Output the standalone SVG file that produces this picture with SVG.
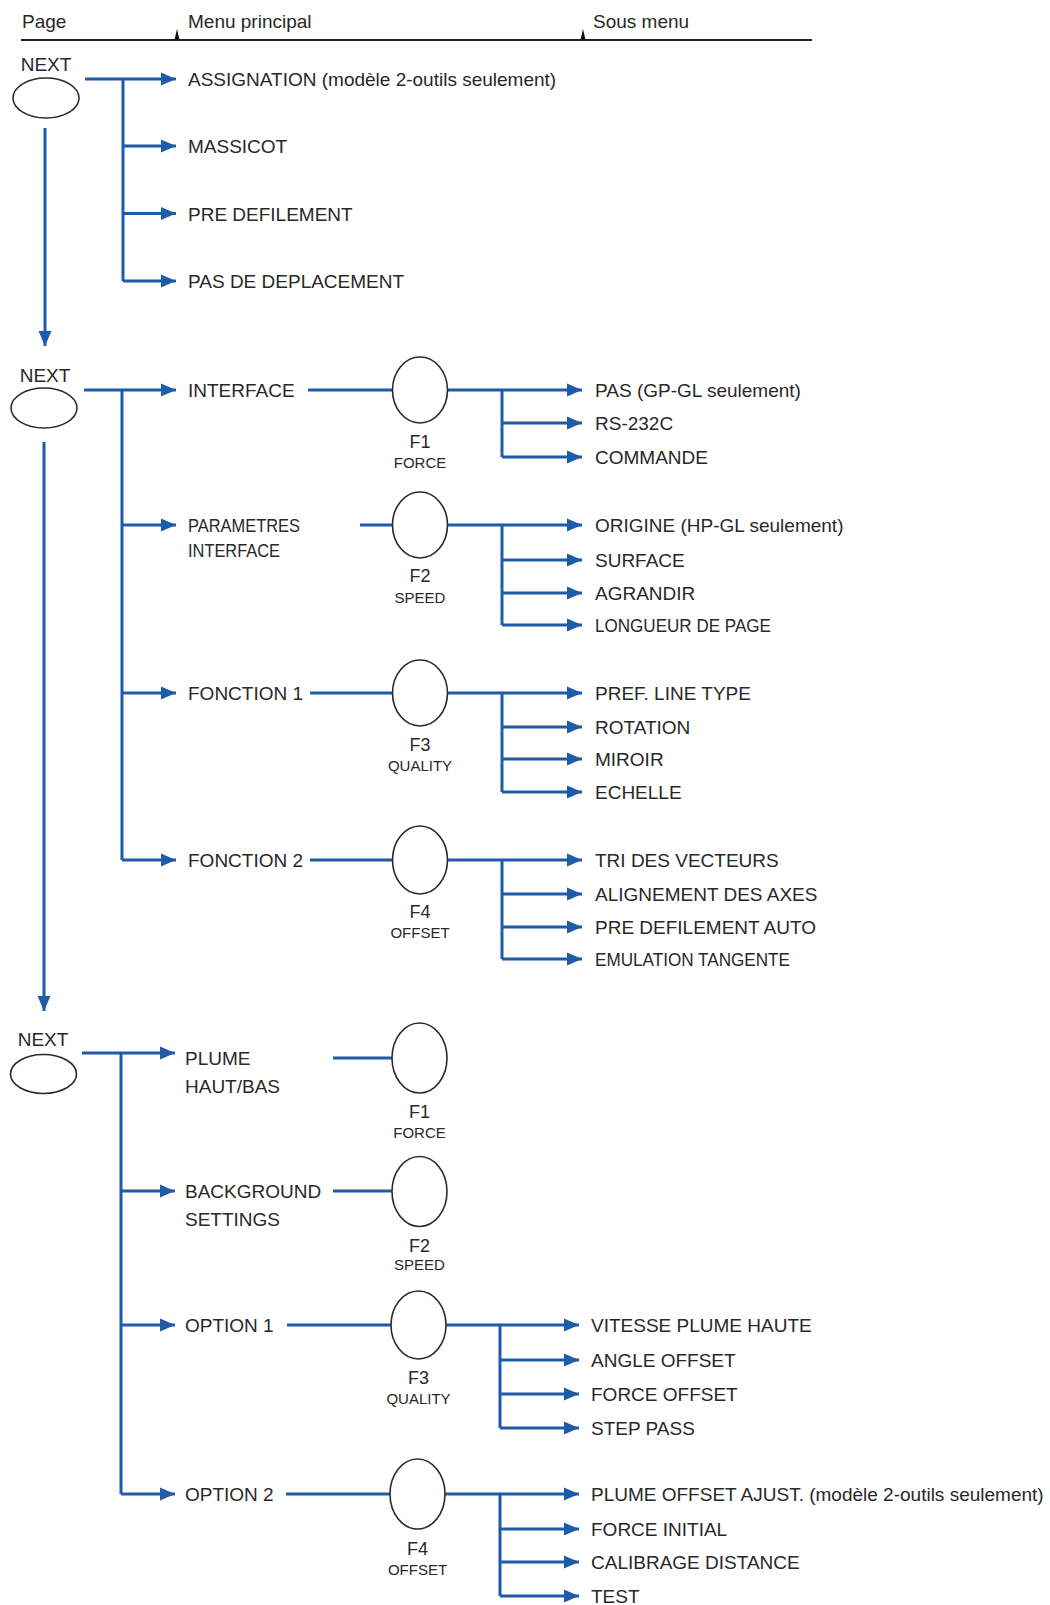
<svg xmlns="http://www.w3.org/2000/svg" width="1050" height="1605" viewBox="0 0 1050 1605">
<style>
  text { font-family: "Liberation Sans", Arial, sans-serif; fill: #282828; }
  .t { font-size: 19px; }
  .f { font-size: 18px; text-anchor: middle; }
  .s { font-size: 15px; text-anchor: middle; }
  .n { font-size: 19px; text-anchor: middle; }
  .c { stroke: #1e5ba8; stroke-width: 3; fill: none; }
  .a { stroke: #1e5ba8; stroke-width: 3; fill: none; marker-end: url(#ah); }
  .k { fill: #ffffff; stroke: #2a2a2a; stroke-width: 1.6; }
</style>
<defs>
  <marker id="ah" markerUnits="userSpaceOnUse" markerWidth="16" markerHeight="14" refX="15" refY="7" orient="auto">
    <path d="M0,0.5 L15,7 L0,13.5 z" fill="#1e5ba8"/>
  </marker>
</defs>
<rect width="1050" height="1605" fill="#ffffff"/>

<g id="header">
  <text class="t" x="22" y="28">Page</text>
  <text class="t" x="188" y="28">Menu principal</text>
  <text class="t" x="593" y="28">Sous menu</text>
  <line x1="21" y1="40" x2="812" y2="40" stroke="#222" stroke-width="2"/>
  <path d="M174.5,40 L177,29 L179.5,40 z" fill="#111"/>
  <path d="M580.5,40 L583,29 L585.5,40 z" fill="#111"/>
</g>

<g id="connectors">
  <!-- page 1 -->
  <path class="a" d="M85,79 H176"/>
  <path class="c" d="M123,79 V281"/>
  <path class="a" d="M123,146 H176"/>
  <path class="a" d="M123,213.5 H176"/>
  <path class="a" d="M123,281 H176"/>
  <path class="a" d="M45,128 V346"/>
  <!-- page 2 -->
  <path class="a" d="M84,390 H176"/>
  <path class="c" d="M122,390 V860"/>
  <path class="a" d="M122,525 H176"/>
  <path class="a" d="M122,693 H176"/>
  <path class="a" d="M122,860 H176"/>
  <path class="a" d="M44,442 V1011"/>
  <path class="c" d="M308,390 H393"/>
  <path class="a" d="M447,390 H582"/>
  <path class="c" d="M502,390 V457"/>
  <path class="a" d="M502,423 H582"/>
  <path class="a" d="M502,457 H582"/>
  <path class="c" d="M360,525 H393"/>
  <path class="a" d="M447,525 H582"/>
  <path class="c" d="M502,525 V625"/>
  <path class="a" d="M502,560 H582"/>
  <path class="a" d="M502,593 H582"/>
  <path class="a" d="M502,625 H582"/>
  <path class="c" d="M310,693 H393"/>
  <path class="a" d="M447,693 H582"/>
  <path class="c" d="M502,693 V792"/>
  <path class="a" d="M502,727 H582"/>
  <path class="a" d="M502,759 H582"/>
  <path class="a" d="M502,792 H582"/>
  <path class="c" d="M310,860 H393"/>
  <path class="a" d="M447,860 H582"/>
  <path class="c" d="M502,860 V959"/>
  <path class="a" d="M502,894 H582"/>
  <path class="a" d="M502,927 H582"/>
  <path class="a" d="M502,959 H582"/>
  <!-- page 3 -->
  <path class="a" d="M82,1053 H175"/>
  <path class="c" d="M121,1053 V1494"/>
  <path class="a" d="M121,1191 H175"/>
  <path class="a" d="M121,1325 H175"/>
  <path class="a" d="M121,1494 H175"/>
  <path class="c" d="M333,1058 H392"/>
  <path class="c" d="M333,1191 H392"/>
  <path class="c" d="M287,1325 H391"/>
  <path class="a" d="M446,1325 H579"/>
  <path class="c" d="M500,1325 V1428"/>
  <path class="a" d="M500,1360 H579"/>
  <path class="a" d="M500,1394 H579"/>
  <path class="a" d="M500,1428 H579"/>
  <path class="c" d="M286,1494 H390"/>
  <path class="a" d="M445,1494 H579"/>
  <path class="c" d="M500,1494 V1596"/>
  <path class="a" d="M500,1529 H579"/>
  <path class="a" d="M500,1562 H579"/>
  <path class="a" d="M500,1596 H579"/>
</g>

<!-- page 1 -->
<g id="next1"><text class="n" x="46" y="71">NEXT</text><ellipse class="k" cx="46" cy="98" rx="33" ry="20"/></g>
<g id="assignation"><text class="t" x="188" y="86">ASSIGNATION (modèle 2-outils seulement)</text></g>
<g id="massicot"><text class="t" x="188" y="153">MASSICOT</text></g>
<g id="predefilement"><text class="t" x="188" y="220.5">PRE DEFILEMENT</text></g>
<g id="pasdeplacement"><text class="t" x="188" y="288">PAS DE DEPLACEMENT</text></g>

<!-- page 2 -->
<g id="next2"><text class="n" x="45" y="382">NEXT</text><ellipse class="k" cx="44" cy="408" rx="33" ry="20"/></g>
<g id="interface"><text class="t" x="188" y="397">INTERFACE</text></g>
<g id="f1a"><ellipse class="k" cx="420" cy="390" rx="27.5" ry="33"/><text class="f" x="420" y="448">F1</text><text class="s" x="420" y="468">FORCE</text></g>
<g id="pas"><text class="t" x="595" y="397">PAS (GP-GL seulement)</text></g>
<g id="rs232"><text class="t" x="595" y="430">RS-232C</text></g>
<g id="commande"><text class="t" x="595" y="464">COMMANDE</text></g>

<g id="parametres"><text class="t" x="188" y="532" textLength="112" lengthAdjust="spacingAndGlyphs">PARAMETRES</text><text class="t" x="188" y="557" textLength="92" lengthAdjust="spacingAndGlyphs">INTERFACE</text></g>
<g id="f2a"><ellipse class="k" cx="420" cy="525" rx="27.5" ry="33"/><text class="f" x="420" y="582">F2</text><text class="s" x="420" y="603">SPEED</text></g>
<g id="origine"><text class="t" x="595" y="532">ORIGINE (HP-GL seulement)</text></g>
<g id="surface"><text class="t" x="595" y="567">SURFACE</text></g>
<g id="agrandir"><text class="t" x="595" y="600">AGRANDIR</text></g>
<g id="longueur"><text class="t" x="595" y="632" textLength="176" lengthAdjust="spacingAndGlyphs">LONGUEUR DE PAGE</text></g>

<g id="fonction1"><text class="t" x="188" y="700">FONCTION 1</text></g>
<g id="f3a"><ellipse class="k" cx="420" cy="693" rx="27.5" ry="33"/><text class="f" x="420" y="751">F3</text><text class="s" x="420" y="771">QUALITY</text></g>
<g id="prefline"><text class="t" x="595" y="700">PREF. LINE TYPE</text></g>
<g id="rotation"><text class="t" x="595" y="734">ROTATION</text></g>
<g id="miroir"><text class="t" x="595" y="766">MIROIR</text></g>
<g id="echelle"><text class="t" x="595" y="799">ECHELLE</text></g>

<g id="fonction2"><text class="t" x="188" y="867">FONCTION 2</text></g>
<g id="f4a"><ellipse class="k" cx="420" cy="860" rx="27.5" ry="34"/><text class="f" x="420" y="918">F4</text><text class="s" x="420" y="938">OFFSET</text></g>
<g id="tri"><text class="t" x="595" y="867">TRI DES VECTEURS</text></g>
<g id="alignement"><text class="t" x="595" y="901">ALIGNEMENT DES AXES</text></g>
<g id="predefauto"><text class="t" x="595" y="934">PRE DEFILEMENT AUTO</text></g>
<g id="emulation"><text class="t" x="595" y="966" textLength="195" lengthAdjust="spacingAndGlyphs">EMULATION TANGENTE</text></g>

<!-- page 3 -->
<g id="next3"><text class="n" x="43" y="1046">NEXT</text><ellipse class="k" cx="43.5" cy="1074" rx="33" ry="19.5"/></g>
<g id="plume"><text class="t" x="185" y="1065">PLUME</text><text class="t" x="185" y="1093">HAUT/BAS</text></g>
<g id="f1b"><ellipse class="k" cx="419.5" cy="1058" rx="27.5" ry="35"/><text class="f" x="419.5" y="1118">F1</text><text class="s" x="419.5" y="1138">FORCE</text></g>
<g id="background"><text class="t" x="185" y="1198">BACKGROUND</text><text class="t" x="185" y="1226">SETTINGS</text></g>
<g id="f2b"><ellipse class="k" cx="419.5" cy="1191.5" rx="27.5" ry="35"/><text class="f" x="419.5" y="1252">F2</text><text class="s" x="419.5" y="1270">SPEED</text></g>
<g id="option1"><text class="t" x="185" y="1332">OPTION 1</text></g>
<g id="f3b"><ellipse class="k" cx="418.5" cy="1325" rx="27.5" ry="34"/><text class="f" x="418.5" y="1384">F3</text><text class="s" x="418.5" y="1404">QUALITY</text></g>
<g id="vitesse"><text class="t" x="591" y="1332">VITESSE PLUME HAUTE</text></g>
<g id="angle"><text class="t" x="591" y="1367">ANGLE OFFSET</text></g>
<g id="forceoffset"><text class="t" x="591" y="1401">FORCE OFFSET</text></g>
<g id="steppass"><text class="t" x="591" y="1435">STEP PASS</text></g>
<g id="option2"><text class="t" x="185" y="1501">OPTION 2</text></g>
<g id="f4b"><ellipse class="k" cx="417.5" cy="1494" rx="27.5" ry="35"/><text class="f" x="417.5" y="1555">F4</text><text class="s" x="417.5" y="1575">OFFSET</text></g>
<g id="plumeoffset"><text class="t" x="591" y="1501">PLUME OFFSET AJUST. (modèle 2-outils seulement)</text></g>
<g id="forceinitial"><text class="t" x="591" y="1536">FORCE INITIAL</text></g>
<g id="calibrage"><text class="t" x="591" y="1569">CALIBRAGE DISTANCE</text></g>
<g id="test"><text class="t" x="591" y="1603">TEST</text></g>
</svg>
